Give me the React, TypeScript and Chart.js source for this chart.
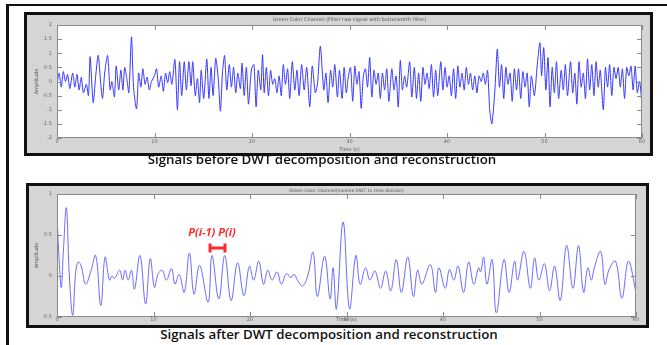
import React, { useEffect, useRef } from "react";
import { Chart, registerables } from "chart.js";
Chart.register(...registerables);

// ---------- data ----------
const beforeTimes = [
  0.0, 0.22, 0.44, 0.65, 0.87, 1.09, 1.31, 1.61, 1.83, 2.05, 2.27, 2.49, 2.71, 3.01, 3.23, 3.4, 3.71, 3.97, 4.23, 4.49,
  4.67, 4.89, 5.19, 5.45, 5.63, 5.89, 6.07, 6.33, 6.55, 6.76, 6.94, 7.16, 7.37, 7.64, 7.85, 8.16, 8.38, 8.6, 8.81, 9.03,
  9.25, 9.47, 9.69, 9.99, 10.21, 10.43, 10.69, 10.91, 11.13, 11.35, 11.56, 11.78, 12.09, 12.35, 12.57, 12.79, 13.05, 13.27, 13.53, 13.75,
  13.92, 14.18, 14.4, 14.62, 14.79, 15.05, 15.36, 15.58, 15.8, 16.01, 16.28, 16.54, 16.76, 16.97, 17.19, 17.41, 17.67, 17.89, 18.11, 18.33,
  18.55, 18.81, 18.98, 19.2, 19.42, 19.64, 19.85, 19.99, 20.2, 20.42, 20.64, 20.9, 21.08, 21.25, 21.47, 21.69, 21.91, 22.12, 22.34, 22.56,
  22.78, 23.0, 23.21, 23.43, 23.65, 23.87, 24.13, 24.39, 24.61, 24.83, 25.09, 25.35, 25.61, 25.92, 26.18, 26.49, 26.71, 27.01, 27.36, 27.58,
  27.8, 28.06, 28.28, 28.49, 28.76, 28.97, 29.24, 29.45, 29.67, 29.89, 30.11, 30.33, 30.55, 30.76, 30.98, 31.2, 31.42, 31.64, 31.85, 32.07,
  32.29, 32.51, 32.73, 32.95, 33.16, 33.38, 33.6, 33.82, 34.04, 34.34, 34.56, 34.78, 35.0, 35.21, 35.43, 35.65, 35.87, 36.17, 36.39, 36.65,
  36.87, 37.09, 37.31, 37.53, 37.74, 37.96, 38.18, 38.4, 38.62, 38.84, 39.05, 39.36, 39.58, 39.8, 40.01, 40.23, 40.45, 40.67, 40.89, 41.11,
  41.32, 41.54, 41.76, 41.98, 42.2, 42.41, 42.63, 42.85, 43.07, 43.29, 43.51, 43.72, 43.94, 44.16, 44.38, 44.6, 44.91, 45.16, 45.38, 45.6,
  45.82, 46.04, 46.25, 46.47, 46.69, 46.91, 47.13, 47.34, 47.56, 47.78, 48.0, 48.22, 48.44, 48.65, 48.96, 49.26, 49.53, 49.7, 49.92, 50.14,
  50.36, 50.57, 50.79, 51.01, 51.23, 51.45, 51.71, 51.93, 52.14, 52.36, 52.67, 52.89, 53.11, 53.32, 53.54, 53.76, 53.98, 54.2, 54.41, 54.63,
  54.85, 55.07, 55.29, 55.51, 55.72, 56.03, 56.25, 56.47, 56.68, 56.9, 57.12, 57.34, 57.56, 57.78, 57.99, 58.21, 58.43, 58.65, 58.87, 59.09,
  59.3, 59.52, 59.74, 59.87, 60.0,
];
const beforeValues = [
  -0.1, 0.3, -0.2, 0.35, 0.0, 0.25, -0.25, 0.3, -0.2, 0.25, -0.3, 0.15, -0.4, -0.1, -0.5, 0.88, -0.75, 0.2, 0.93, -0.1,
  -0.6, 0.3, 0.92, -0.3, 0.0, -0.55, 0.55, -0.3, 0.4, -0.3, 0.5, 0.1, -0.4, 1.58, -0.2, -0.97, 0.3, -0.2, 0.45, -0.1,
  0.15, -0.3, 0.0, 0.2, 0.45, -0.2, 0.2, -0.35, 0.3, -0.05, 0.35, -0.1, 0.78, -1.0, 0.7, -0.5, 0.7, -0.3, 0.7, -0.15,
  0.7, -0.5, 0.1, -0.75, 0.4, -0.6, 0.8, -0.6, 0.5, -0.5, 0.82, 0.1, -1.05, 0.3, 0.92, -0.3, 0.6, -0.2, 0.5, -0.4,
  0.3, -0.25, 0.65, -0.5, 0.5, -0.8, 0.1, 0.5, 0.6, -0.9, 0.4, -0.3, 0.95, -0.4, 0.5, -0.5, 0.4, -0.1, 0.1, -0.4,
  0.2, -0.5, 0.6, -0.1, 0.45, -0.6, 0.7, -0.3, 0.4, -0.5, 0.6, -0.3, 0.5, -0.9, 0.55, -0.4, -0.1, 1.25, -0.3, 0.3,
  -0.75, 0.4, -0.2, 0.6, -0.55, 0.4, -0.6, 0.5, -0.4, 0.2, 0.5, -0.7, 0.55, -0.1, 0.35, -0.95, 0.2, 0.45, -0.2, 0.85,
  -0.55, 0.4, -0.1, 0.3, -0.6, 0.3, -0.3, 0.45, -0.7, 0.45, -0.3, 0.2, -0.9, 0.75, -0.3, 0.2, -0.2, 0.7, -0.55, 0.5,
  -0.6, 0.3, -0.7, 0.5, -0.1, 0.3, -0.25, 0.6, -0.55, 0.4, -0.5, 0.7, -0.3, 0.5, -0.2, 0.2, -0.5, 0.45, -0.6, 0.55,
  -0.2, 0.3, -0.3, 0.5, -0.1, 0.3, -0.3, 0.2, -0.4, 0.2, 0.0, 0.3, -0.1, 0.4, -1.0, -1.5, -0.3, 1.15, -0.2, 0.6,
  -0.6, 0.5, -0.1, 0.3, -0.7, 0.45, -0.3, 0.45, -0.6, 0.35, -0.2, 0.3, -0.9, 0.2, -0.5, 0.6, 1.37, 0.2, 1.2, -0.3,
  0.85, -0.9, 0.5, -0.4, 0.7, -0.6, 0.4, -0.3, 0.6, -0.5, 0.7, -0.4, 0.3, -0.8, 0.7, -0.2, 0.3, -0.6, 0.8, -0.3,
  0.6, -0.5, 0.7, -0.2, 0.4, -1.0, 0.5, -0.2, 0.6, -0.5, 0.5, 0.1, 0.5, -0.2, 0.45, -0.6, 0.5, 0.2, 0.55, -0.3,
  0.55, -0.4, 0.0, -0.3, -0.9,
];

const afterTimes = [
  0.0, 0.22, 0.44, 0.66, 0.97, 1.28, 1.63, 1.94, 2.21, 2.51, 2.96, 3.49, 4.01, 4.54, 4.98, 5.43, 5.69, 5.96, 6.49, 6.79,
  7.06, 7.37, 7.72, 8.03, 8.6, 9.18, 9.66, 10.1, 10.46, 10.9, 11.34, 11.87, 12.22, 12.66, 13.19, 13.72, 14.2, 14.78, 15.66, 16.06,
  16.77, 17.38, 18.04, 18.71, 19.37, 19.94, 20.38, 20.91, 21.4, 21.84, 22.28, 22.81, 23.25, 23.78, 24.22, 24.57, 24.92, 25.45, 25.98, 26.54,
  26.98, 27.73, 28.3, 28.61, 28.96, 29.65, 30.31, 30.97, 31.41, 31.98, 32.42, 32.95, 33.53, 34.06, 34.59, 35.16, 35.69, 36.35, 36.93, 37.37,
  37.81, 38.69, 39.22, 39.57, 40.23, 40.67, 41.12, 41.56, 42.13, 42.66, 43.19, 43.68, 43.9, 44.21, 44.56, 45.09, 45.53, 46.32, 46.85, 47.42,
  47.73, 48.39, 49.05, 49.49, 49.93, 50.51, 51.04, 51.57, 52.15, 52.81, 53.47, 54.04, 54.57, 55.01, 55.37, 55.68, 56.34, 56.78, 57.22, 57.88,
  58.54, 59.21, 60.0,
];
const afterValues = [
  0.73, 0.2, -0.14, 0.3, 0.83, 0.0, -0.48, 0.05, 0.17, 0.12, -0.1, 0.05, 0.25, -0.36, 0.23, -0.05, 0.0, -0.03, 0.07, -0.05,
  0.07, -0.05, 0.07, -0.16, 0.25, -0.34, 0.21, -0.14, 0.02, 0.07, -0.05, 0.09, -0.1, 0.02, -0.2, 0.28, -0.22, 0.13, -0.32, 0.25,
  -0.28, 0.25, -0.3, 0.16, -0.24, 0.12, -0.05, 0.18, -0.1, 0.07, -0.05, 0.05, -0.1, 0.03, -0.02, 0.02, -0.05, -0.12, 0.0, 0.29,
  -0.25, 0.24, -0.28, 0.1, -0.4, 0.66, -0.4, 0.25, -0.1, 0.1, -0.05, 0.06, -0.15, 0.06, -0.18, 0.2, -0.2, 0.23, -0.25, 0.07,
  -0.1, 0.14, -0.2, 0.1, -0.15, 0.08, -0.05, 0.12, -0.2, 0.17, -0.1, 0.1, 0.05, 0.23, -0.1, 0.2, -0.45, 0.2, -0.2, 0.18,
  -0.05, 0.3, -0.15, 0.22, -0.05, 0.15, -0.18, 0.12, -0.3, 0.37, -0.15, 0.37, -0.2, 0.1, -0.05, 0.1, 0.3, -0.1, 0.08, 0.18,
  -0.27, 0.18, -0.2,
];

const timeTicks = [0, 10, 20, 30, 40, 50, 60];
const beforeAmpTicks = [-2, -1.5, -1, -0.5, 0, 0.5, 1, 1.5, 2];
const afterAmpTicks = [-0.5, 0, 0.5, 1];

const beforeTitle = "Green Color Channel (Filter raw signal with butterworth filter)";
const afterTitle = "Green Color Channel(Inverse DWT to time domain)";
const xTitle = "Time (s)";
const yTitle = "Amplitude";
const beforeCaption = "Signals before DWT decomposition and reconstruction";
const afterCaption = "Signals after DWT decomposition and reconstruction";
const peakLabel = "P(i-1) P(i)";
const peakPair = [15.86, 17.41];
const peakLevel = 0.34;
const peakLabelAt = [16.06, 0.53];

// ---------- plugins ----------
const matlabPlugin = {
  id: "matlab",
  beforeDraw(chart: any) {
    const { ctx, chartArea: a } = chart;
    ctx.save();
    ctx.fillStyle = "#ffffff";
    ctx.fillRect(a.left, a.top, a.right - a.left, a.bottom - a.top);
    ctx.restore();
  },
  afterDraw(chart: any, _args: any, opts: any) {
    const { ctx, chartArea: a, scales } = chart;
    const x = scales.x, y = scales.y;
    ctx.save();
    ctx.strokeStyle = "#8a8a8a";
    ctx.lineWidth = 1;
    ctx.strokeRect(a.left + 0.5, a.top + 0.5, a.right - a.left - 1, a.bottom - a.top - 1);
    ctx.beginPath();
    for (const v of opts.xTicks) {
      const px = Math.round(x.getPixelForValue(v)) + 0.5;
      ctx.moveTo(px, a.bottom); ctx.lineTo(px, a.bottom - 5);
      ctx.moveTo(px, a.top); ctx.lineTo(px, a.top + 5);
    }
    for (const v of opts.yTicks) {
      const py = Math.round(y.getPixelForValue(v)) + 0.5;
      ctx.moveTo(a.left, py); ctx.lineTo(a.left + 5, py);
      ctx.moveTo(a.right, py); ctx.lineTo(a.right - 5, py);
    }
    ctx.stroke();
    ctx.fillStyle = "#555";
    ctx.font = `${opts.titleSize}px "DejaVu Sans"`;
    ctx.textAlign = "center";
    ctx.textBaseline = "middle";
    ctx.fillText(opts.title, (a.left + a.right) / 2, a.top - opts.titleGap);
    ctx.restore();
  },
};

const peakPlugin = {
  id: "peakMark",
  afterDatasetsDraw(chart: any) {
    const { ctx, scales } = chart;
    const x = scales.x, y = scales.y;
    const x0 = x.getPixelForValue(peakPair[0]);
    const x1 = x.getPixelForValue(peakPair[1]);
    const py = y.getPixelForValue(peakLevel);
    ctx.save();
    ctx.strokeStyle = "#ff2a2a";
    ctx.lineWidth = 3;
    ctx.beginPath();
    ctx.moveTo(x0, py); ctx.lineTo(x1, py);
    ctx.moveTo(x0, py - 4.5); ctx.lineTo(x0, py + 4.5);
    ctx.moveTo(x1, py - 4.5); ctx.lineTo(x1, py + 4.5);
    ctx.stroke();
    ctx.fillStyle = "#ff2a2a";
    ctx.font = 'italic bold 11px "Open Sans"';
    ctx.textAlign = "center";
    ctx.textBaseline = "middle";
    ctx.fillText(peakLabel, x.getPixelForValue(peakLabelAt[0]), y.getPixelForValue(peakLabelAt[1]));
    ctx.restore();
  },
};

type PanelCfg = {
  times: number[];
  values: number[];
  yTicks: number[];
  yMin: number;
  yMax: number;
  title: string;
  titleSize: number;
  titleGap: number;
  color: string;
  tension: number;
  yAxisWidth: number;
  xAxisHeight: number;
  padding: { top: number; right: number; left: number; bottom: number };
  yTitlePad: number;
  xTitlePad: number;
  xTickPad: number;
  extraPlugins: any[];
};

function SignalChart({ cfg, width, height }: { cfg: PanelCfg; width: number; height: number }) {
  const ref = useRef<HTMLCanvasElement | null>(null);
  useEffect(() => {
    if (!ref.current) return;
    const tickFont = { family: '"DejaVu Sans"', size: 5 };
    const chart = new Chart(ref.current, {
      type: "line",
      data: {
        datasets: [
          {
            data: cfg.times.map((t, i) => ({ x: t, y: cfg.values[i] })),
            borderColor: cfg.color,
            borderWidth: 1,
            pointRadius: 0,
            tension: cfg.tension,
            fill: false,
          },
        ],
      },
      options: {
        animation: false,
        responsive: false,
        devicePixelRatio: 1,
        events: [],
        layout: { padding: cfg.padding },
        plugins: {
          legend: { display: false },
          tooltip: { enabled: false },
          matlab: { xTicks: timeTicks, yTicks: cfg.yTicks, title: cfg.title, titleSize: cfg.titleSize, titleGap: cfg.titleGap },
        } as any,
        scales: {
          x: {
            type: "linear",
            min: 0,
            max: 60,
            afterBuildTicks: (s: any) => { s.ticks = timeTicks.map((v) => ({ value: v })); },
            afterFit: (s: any) => { s.height = cfg.xAxisHeight; },
            grid: { display: false, drawTicks: false },
            border: { display: false },
            ticks: { font: tickFont, color: "#666", padding: cfg.xTickPad, maxRotation: 0, autoSkip: false, callback: (v: any) => String(v) },
            title: { display: true, text: xTitle, font: tickFont, color: "#555", padding: { top: cfg.xTitlePad, bottom: 0 } },
          },
          y: {
            min: cfg.yMin,
            max: cfg.yMax,
            afterBuildTicks: (s: any) => { s.ticks = cfg.yTicks.map((v) => ({ value: v })); },
            afterFit: (s: any) => { s.width = cfg.yAxisWidth; },
            grid: { display: false, drawTicks: false },
            border: { display: false },
            ticks: { font: tickFont, color: "#666", padding: 5, autoSkip: false, callback: (v: any) => String(v) },
            title: { display: true, text: yTitle, font: tickFont, color: "#555", padding: { top: cfg.yTitlePad, bottom: 0 } },
          },
        },
      },
      plugins: [matlabPlugin, ...cfg.extraPlugins],
    } as any);
    return () => chart.destroy();
  }, []);
  return <canvas ref={ref} width={width} height={height} style={{ position: "absolute", left: 0, top: 0, width, height }} />;
}

const beforeCfg: PanelCfg = {
  times: beforeTimes,
  values: beforeValues,
  yTicks: beforeAmpTicks,
  yMin: -2,
  yMax: 2,
  title: beforeTitle,
  titleSize: 5,
  titleGap: 5,
  color: "#3636ff",
  tension: 0.25,
  yAxisWidth: 30,
  xAxisHeight: 15,
  padding: { top: 10, right: 8, left: 0, bottom: 0 },
  yTitlePad: 7,
  xTitlePad: 4,
  xTickPad: 1,
  extraPlugins: [],
};

const afterCfg: PanelCfg = {
  times: afterTimes,
  values: afterValues,
  yTicks: afterAmpTicks,
  yMin: -0.5,
  yMax: 1,
  title: afterTitle,
  titleSize: 4.5,
  titleGap: 3,
  color: "#6a6aff",
  tension: 0.4,
  yAxisWidth: 28,
  xAxisHeight: 6,
  padding: { top: 5, right: 10, left: 0, bottom: 0 },
  yTitlePad: 5,
  xTitlePad: 0,
  xTickPad: 0,
  extraPlugins: [peakPlugin],
};

const captionStyle: React.CSSProperties = {
  position: "absolute",
  width: 440,
  textAlign: "center",
  fontFamily: '"Open Sans", sans-serif',
  fontWeight: 600,
  fontSize: 13.3,
  lineHeight: "15px",
  color: "#111",
  whiteSpace: "nowrap",
};

export default function App() {
  return (
    <div style={{ position: "absolute", left: 0, top: 0, width: 667, height: 345, overflow: "hidden", background: "#fff" }}>
      <div style={{ position: "absolute", left: 6, top: 4, width: 680, height: 360, borderTop: "2px solid #111", borderLeft: "3px solid #111" }} />
      <div style={{ position: "absolute", left: 24, top: 12, width: 623, height: 138, border: "3px solid #111", background: "#d5d5d5" }}>
        <SignalChart cfg={beforeCfg} width={623} height={138} />
      </div>
      <div style={{ ...captionStyle, left: 322 - 220, top: 152 }}>{beforeCaption}</div>
      <div style={{ position: "absolute", left: 26, top: 183, width: 617, height: 139, border: "3px solid #111", background: "#d5d5d5" }}>
        <SignalChart cfg={afterCfg} width={617} height={139} />
      </div>
      <div style={{ ...captionStyle, left: 329 - 220, top: 327 }}>{afterCaption}</div>
    </div>
  );
}
